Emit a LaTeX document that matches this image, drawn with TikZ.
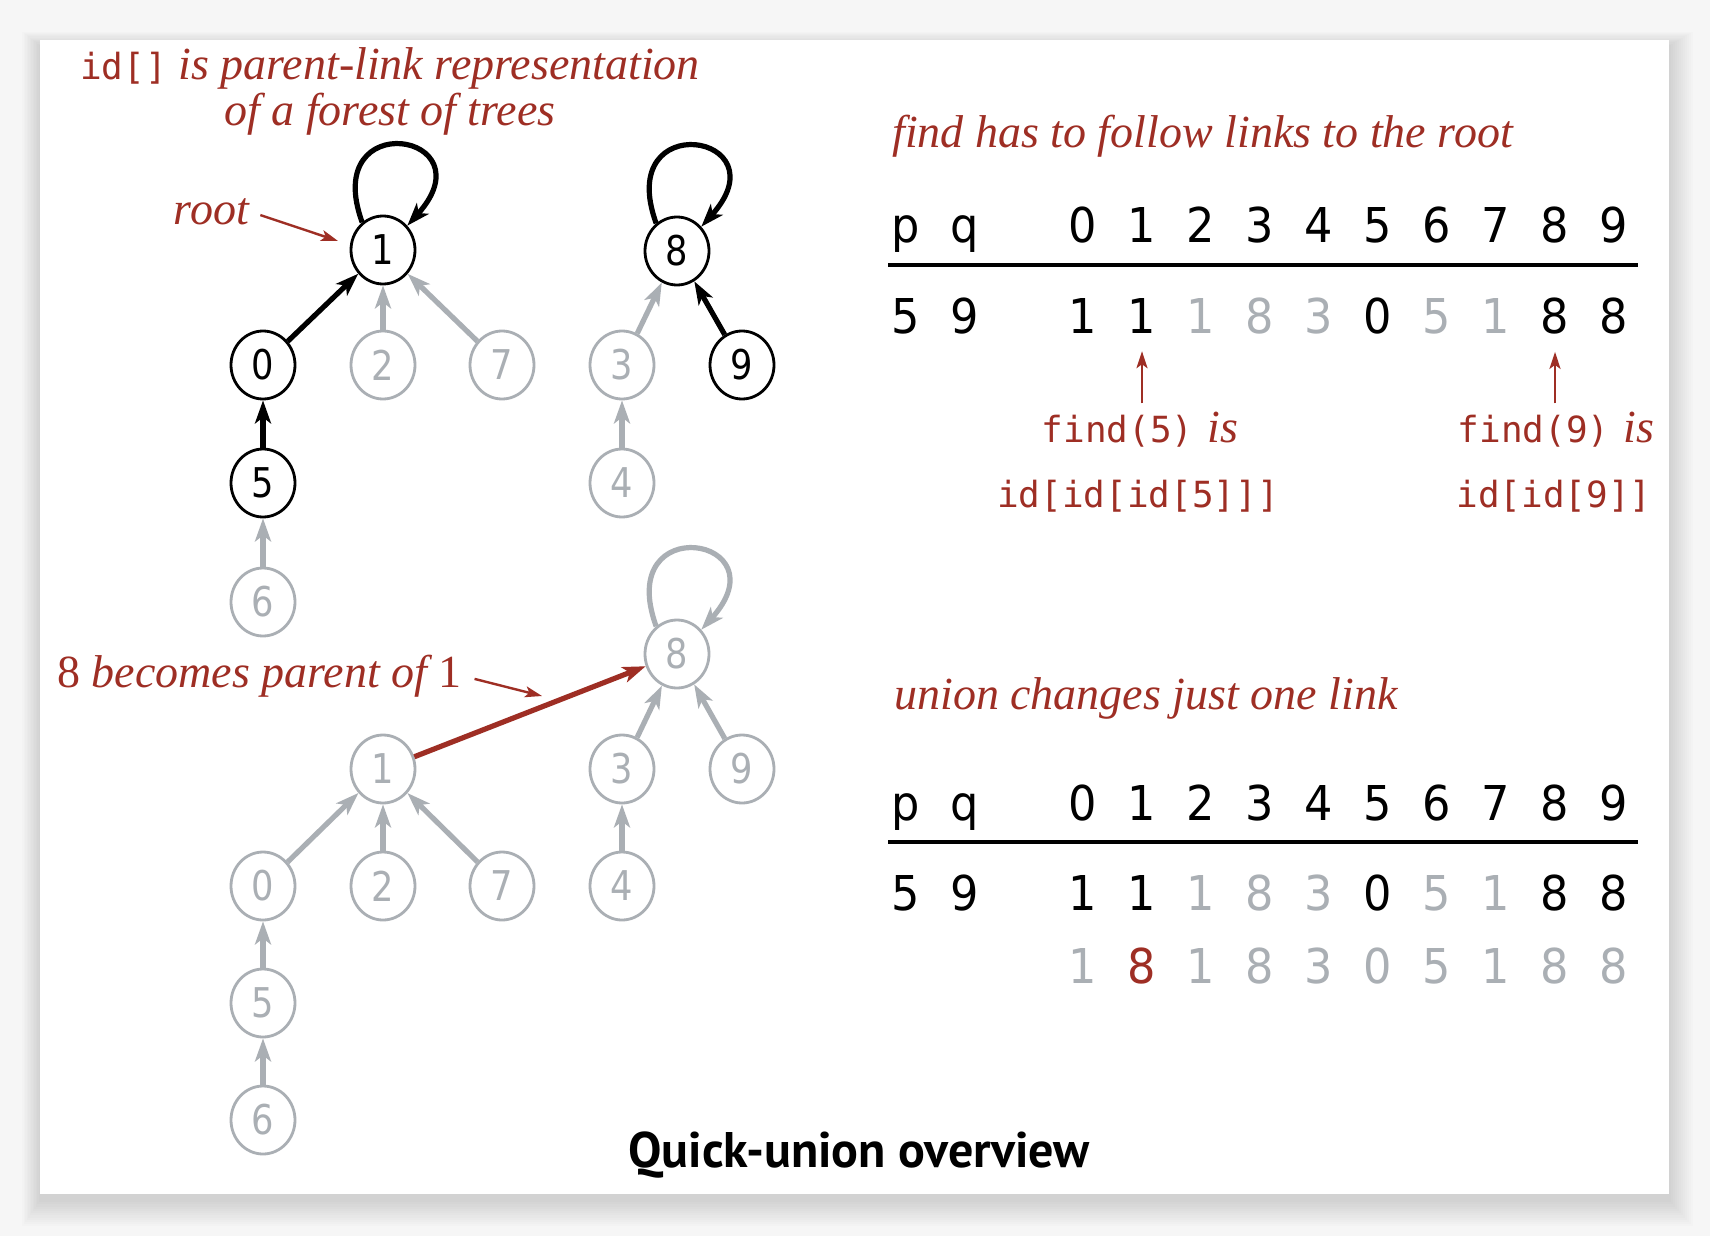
\documentclass[tikz,border=0pt]{standalone}
\usepackage{fontspec}
\setmainfont{Liberation Serif}
\newfontfamily\digfont[FakeStretch=0.93]{DejaVu Sans}
\newfontfamily\nodefont[FakeStretch=0.86]{DejaVu Sans}
\newfontfamily\codefont{DejaVu Sans Mono}
\newfontfamily\capfont{PT Sans}
\usetikzlibrary{arrows.meta,shapes.geometric}
\definecolor{bkred}{RGB}{158,46,36}
\definecolor{ltgray}{RGB}{170,175,180}
\definecolor{pagebg}{RGB}{246,246,246}
\tikzset{
  vtx/.style={ellipse, line width=2.8pt, minimum width=64pt, minimum height=68pt, inner sep=0pt, font=\nodefont\fontsize{41}{41}\selectfont},
  bvtx/.style={vtx, draw=black, text=black},
  gvtx/.style={vtx, draw=ltgray, text=ltgray},
  heavy/.style={-{Stealth[length=23pt,width=16pt,inset=6pt]}, line width=5.2pt},
  bedge/.style={heavy, draw=black},
  gedge/.style={heavy, draw=ltgray},
  redge/.style={heavy, draw=bkred},
  pointer/.style={-{Stealth[length=17pt,width=11pt,inset=4pt]}, line width=2.4pt, draw=bkred},
  itl/.style={font=\fontsize{46}{46}\selectfont\itshape, text=bkred, inner sep=0pt},
  dig/.style={font=\digfont\fontsize{48}{48}\selectfont, inner sep=0pt, anchor=base},
  code/.style={font=\codefont\fontsize{36}{36}\selectfont, text=bkred, inner sep=0pt, anchor=base},
}
\begin{document}
\begin{tikzpicture}[x=1pt,y=1pt]
\useasboundingbox (0,0) rectangle (1710,-1236);
\fill[pagebg] (0,0) rectangle (1710,-1236);
\foreach \k in {1,...,12}
  \fill[black, opacity=0.01] ({40-\k*1.5},{-40+\k*1.2-6}) rectangle ({1669+\k*2},{-1194-\k*2.2-6});
\fill[white] (40,-40) rectangle (1669,-1194);

% title
\node[itl, anchor=base] (t1) at (390,-80) {{\codefont\upshape\fontsize{36}{36}\selectfont id[]} is parent-link representation};
\node[itl, anchor=base] (t2) at (390,-125) {of a forest of trees};

% top forest
\node[bvtx] (a1) at (383,-250) {1};
\node[bvtx] (a0) at (263,-365) {0};
\node[gvtx] (a2) at (383,-365) {2};
\node[gvtx] (a7) at (502,-365) {7};
\node[bvtx] (a5) at (263,-483) {5};
\node[gvtx] (a6) at (263,-602) {6};
\node[bvtx] (a8) at (677,-251) {8};
\node[gvtx] (a3) at (622,-365) {3};
\node[bvtx] (a9) at (742,-365) {9};
\node[gvtx] (a4) at (622,-483) {4};

\draw[bedge] (a1.127) .. controls +(110:125) and +(48:125) .. (a1.45);
\draw[bedge] (a8.127) .. controls +(110:125) and +(48:125) .. (a8.45);
\draw[bedge] (a0) -- (a1);
\draw[gedge] (a2) -- (a1);
\draw[gedge] (a7) -- (a1);
\draw[bedge] (a5) -- (a0);
\draw[gedge] (a6) -- (a5);
\draw[gedge] (a3) -- (a8);
\draw[bedge] (a9) -- (a8);
\draw[gedge] (a4) -- (a3);

\node[itl, anchor=base east] (rootlbl) at (249,-224) {root};
\coordinate (roottip) at (338,-241);
\draw[pointer, shorten <=12pt] (rootlbl.east) -- (roottip);

% bottom forest
\node[gvtx] (b8) at (677,-654) {8};
\node[gvtx] (b1) at (383,-769) {1};
\node[gvtx] (b3) at (622,-769) {3};
\node[gvtx] (b9) at (742,-769) {9};
\node[gvtx] (b0) at (263,-886) {0};
\node[gvtx] (b2) at (383,-886) {2};
\node[gvtx] (b7) at (502,-886) {7};
\node[gvtx] (b4) at (622,-886) {4};
\node[gvtx] (b5) at (263,-1003) {5};
\node[gvtx] (b6) at (263,-1120) {6};

\draw[gedge] (b8.127) .. controls +(110:125) and +(48:125) .. (b8.45);
\draw[redge] (b1) -- (b8);
\draw[gedge] (b3) -- (b8);
\draw[gedge] (b9) -- (b8);
\draw[gedge] (b4) -- (b3);
\draw[gedge] (b0) -- (b1);
\draw[gedge] (b2) -- (b1);
\draw[gedge] (b7) -- (b1);
\draw[gedge] (b5) -- (b0);
\draw[gedge] (b6) -- (b5);

\node[itl, anchor=base west] (parlbl) at (57,-687) {{\upshape 8} becomes parent of {\upshape 1}};
\coordinate (redtip) at (542,-696);
\draw[pointer, shorten <=13pt] (parlbl.east) -- (redtip);

% first table
\node[itl, anchor=base west] (h1) at (892,-147) {find has to follow links to the root};
\node[dig] (t1p) at (906,-242) {p};
\node[dig] (t1q) at (965,-242) {q};
\foreach \v [count=\i from 0] in {0,...,9}
  \node[dig] (t1h\i) at ({1083+59*\i},-242) {\v};
\draw[line width=3.5pt] (888,-265) -- (1638,-265);
\node[dig] (t1rp) at (906,-333) {5};
\node[dig] (t1rq) at (965,-333) {9};
\foreach \v/\c [count=\i from 0] in {1/black,1/black,1/ltgray,8/ltgray,3/ltgray,0/black,5/ltgray,1/ltgray,8/black,8/black}
  \node[dig, text=\c] (t1r\i) at ({1083+59*\i},-333) {\v};

\node[code] (f5) at (1140,-442) {find(5)\hspace{14pt}{\rmfamily\itshape\fontsize{46}{46}\selectfont is}};
\node[code] (id5) at (1138,-507) {id[id[id[5]]]};
\node[code] (f9) at (1556,-442) {find(9)\hspace{14pt}{\rmfamily\itshape\fontsize{46}{46}\selectfont is}};
\node[code] (id9) at (1554,-507) {id[id[9]]};
\draw[pointer, shorten <=8pt, shorten >=18pt] (f5.north -| t1r1.south) -- (t1r1.south);
\draw[pointer, shorten <=8pt, shorten >=18pt] (f9.north -| t1r8.south) -- (t1r8.south);

% second table
\node[itl, anchor=base west] (h2) at (894,-709) {union changes just one link};
\node[dig] (t2p) at (906,-820) {p};
\node[dig] (t2q) at (965,-820) {q};
\foreach \v [count=\i from 0] in {0,...,9}
  \node[dig] (t2h\i) at ({1083+59*\i},-820) {\v};
\draw[line width=3.5pt] (888,-842) -- (1638,-842);
\node[dig] (t2rp) at (906,-910) {5};
\node[dig] (t2rq) at (965,-910) {9};
\foreach \v/\c [count=\i from 0] in {1/black,1/black,1/ltgray,8/ltgray,3/ltgray,0/black,5/ltgray,1/ltgray,8/black,8/black}
  \node[dig, text=\c] (t2r\i) at ({1083+59*\i},-910) {\v};
\foreach \v/\c [count=\i from 0] in {1/ltgray,8/bkred,1/ltgray,8/ltgray,3/ltgray,0/ltgray,5/ltgray,1/ltgray,8/ltgray,8/ltgray}
  \node[dig, text=\c] (t2s\i) at ({1083+59*\i},-983) {\v};

\node[font=\capfont\bfseries\fontsize{50}{50}\selectfont, anchor=base, inner sep=0pt] (cap) at (859,-1167) {Quick-union overview};
\end{tikzpicture}
\end{document}
